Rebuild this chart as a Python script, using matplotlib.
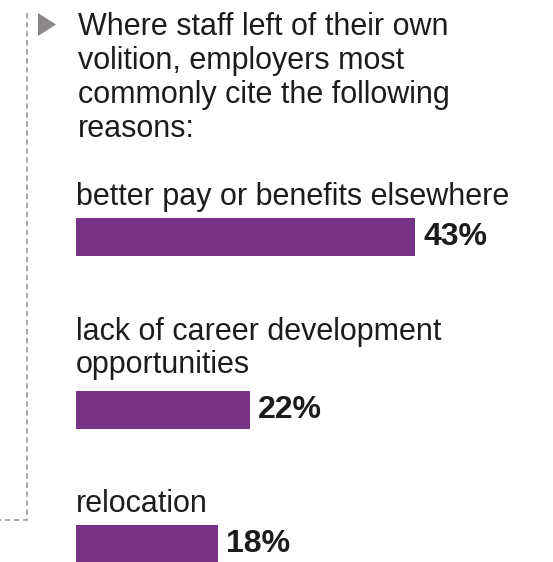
import matplotlib.pyplot as plt
from matplotlib.patches import Polygon

# chart content
header_lines = ["Where staff left of their own", "volition, employers most",
                "commonly cite the following", "reasons:"]
reasons = [["better pay or benefits elsewhere"],
           ["lack of career development", "opportunities"],
           ["relocation"]]
shares = [43, 22, 18]
share_labels = ["43%", "22%", "18%"]

W, H = 553, 562
PURPLE = "#773386"
GREY = "#a3a3a3"
TXT = "#1c1c1c"
FONT = "Liberation Sans"

fig = plt.figure(figsize=(W / 100, H / 100), dpi=100)

# full-figure axes in pixel units for the decoration and text
ax = fig.add_axes([0, 0, 1, 1])
ax.set_xlim(0, W)
ax.set_ylim(H, 0)
ax.axis("off")

# dashed bracket on the left
ax.plot([27, 27, 0], [13, 520, 520], color=GREY, lw=1.3, ls=(0, (3, 2)))
# triangle bullet
ax.add_patch(Polygon([[38, 13], [38, 36], [56, 24.5]], closed=True,
                     color="#8c8787", lw=0))

for i, line in enumerate(header_lines):
    ax.text(78, 35 + i * 34, line, fontsize=22, family=FONT, color=TXT,
            va="baseline", ha="left")

# bar axes: x in percent, y in pixels
px_per_pct = 7.89
left = 76
bx = fig.add_axes([left / W, 0, (W - left) / W, 1])
bx.set_xlim(0, (W - left) / px_per_pct)
bx.set_ylim(H, 0)
bx.axis("off")

bar_centers = [237, 410, 544]
label_base = [205, 340, 512]
for i, (lines, val, lab) in enumerate(zip(reasons, shares, share_labels)):
    bx.barh(bar_centers[i], val, height=38, color=PURPLE, lw=0)
    for j, line in enumerate(lines):
        bx.text(0, label_base[i] + j * 33, line, fontsize=22, family=FONT,
                color=TXT, va="baseline", ha="left")
    bx.annotate(lab, (val, bar_centers[i]), xytext=(6, 0),
                textcoords="offset points", fontsize=23, family=FONT,
                weight="bold", color=TXT, va="center", ha="left")

fig.savefig("out.png", dpi=100, facecolor="white")
